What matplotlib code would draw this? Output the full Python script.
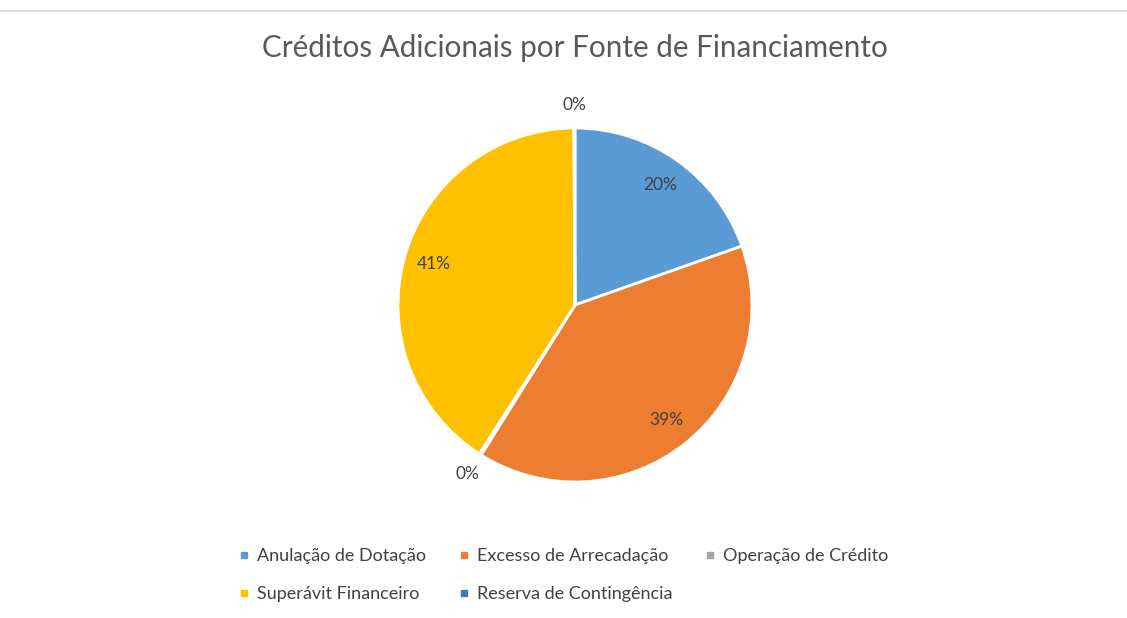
import matplotlib.pyplot as plt
from matplotlib.lines import Line2D
import numpy as np

plt.rcParams['font.family'] = ['Lato', 'DejaVu Sans']

# dados do grafico
categorias = ['Anulação de Dotação', 'Excesso de Arrecadação', 'Operação de Crédito',
              'Superávit Financeiro', 'Reserva de Contingência']
valores = [19.6, 39.3, 0.2, 40.8, 0.1]
cores = ['#5B9BD5', '#ED7D31', '#A5A5A5', '#FFC000', '#4472C4']

fig = plt.figure(figsize=(11.27, 6.18), dpi=100)
fig.patch.set_facecolor('white')

# linha cinza no topo (borda do grafico)
fig.add_artist(Line2D([0, 1], [1 - 11 / 618, 1 - 11 / 618], color='#d9d9d9', lw=1.2))

ax = fig.add_axes([0.3139, 0.1485, 0.3926, 0.716])
wedges, textos, pcts = ax.pie(valores, colors=cores, startangle=90, counterclock=False,
                              autopct='%1.0f%%', pctdistance=0.83,
                              wedgeprops=dict(edgecolor='white', linewidth=2),
                              textprops=dict(color='#404040', fontsize=12.5))
ax.set_xlim(-1.25, 1.25)
ax.set_ylim(-1.25, 1.25)
ax.set_aspect('equal')

# fatias pequenas: rotulo fora da pizza
for w, t, v in zip(wedges, pcts, valores):
    if v < 1:
        ang = np.deg2rad((w.theta1 + w.theta2) / 2)
        t.set_position((1.13 * np.cos(ang), 1.13 * np.sin(ang)))

fig.text(0.5098, 1 - 48 / 618, 'Créditos Adicionais por Fonte de Financiamento',
         ha='center', va='center', fontsize=21.3, color='#595959')

ordem = [0, 3, 1, 4, 2]
handles = [Line2D([], [], marker='s', linestyle='', markersize=5,
                  markerfacecolor=cores[i], markeredgecolor=cores[i]) for i in ordem]
rotulos = [categorias[i] for i in ordem]
fig.legend(handles, rotulos, ncol=3, loc='center', bbox_to_anchor=(0.5, 1 - 575 / 618),
           frameon=False, fontsize=13, labelcolor='#404040', handlelength=0.6,
           handletextpad=0.4, columnspacing=1.8, labelspacing=1.2)

plt.savefig('out.png', dpi=100)
